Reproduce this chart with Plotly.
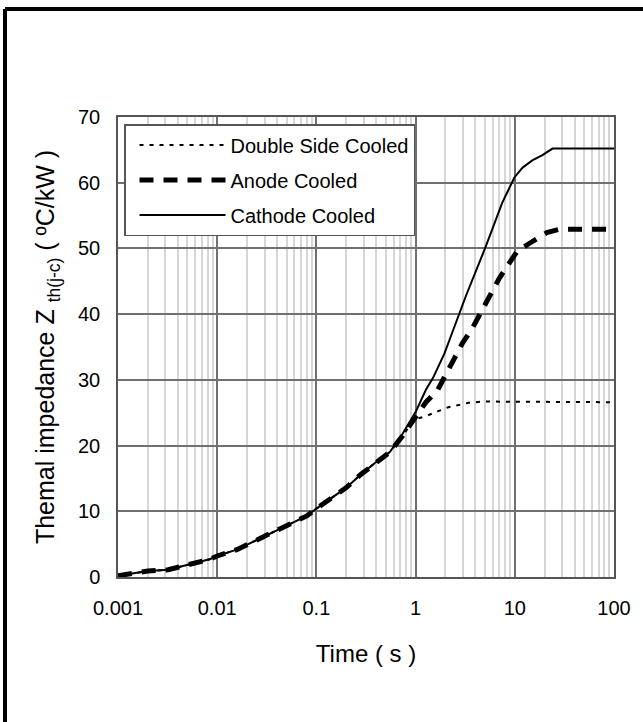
import plotly.graph_objects as go

# ---- data ----
t_common = [0.001, 0.0015, 0.002, 0.0032, 0.005, 0.0084, 0.01, 0.016, 0.031, 0.05, 0.08, 0.1,
            0.2, 0.28, 0.4, 0.55, 0.74, 0.97]
z_common = [0.2, 0.6, 0.9, 1.1, 1.8, 2.7, 3.2, 4.2, 6.3, 7.8, 9.3, 10.4,
            13.6, 15.6, 17.5, 19.0, 21.5, 24.0]

t_double = t_common + [1.23, 2.1, 3.4, 4.7, 100]
z_double = z_common + [24.4, 25.8, 26.5, 26.7, 26.6]

t_anode = t_common + [1.27, 1.66, 2.0, 2.45, 2.97, 3.75, 4.55, 5.5, 7.0, 9.1, 10.6, 14.5, 21, 28, 100]
z_anode = z_common[:-1] + [24.1] + [26.6, 28.4, 30.7, 33.0, 35.6, 37.9, 40.2, 42.7, 45.5, 48.1,
                                    49.6, 50.9, 52.4, 52.9, 52.9]

t_cathode = t_common[:-2] + [0.74, 1.0, 1.27, 1.5, 1.95, 2.2, 2.76, 3.22, 5.1, 7.5, 9.9, 12, 15, 19, 24, 100]
z_cathode = z_common[:-2] + [21.8, 25.1, 28.5, 30.3, 34.0, 36.1, 40.2, 42.8, 50.3, 57.0, 60.8,
                             62.3, 63.4, 64.2, 65.2, 65.2]

series_names = ["Double Side Cooled", "Anode Cooled", "Cathode Cooled"]
x_tickvals = [0.001, 0.01, 0.1, 1, 10, 100]
x_ticktext = ["0.001", "0.01", "0.1", "1", "10", "100"]
y_tickvals = [0, 10, 20, 30, 40, 50, 60, 70]

FONT = "Liberation Sans, Arial, sans-serif"

fig = go.Figure()
fig.add_trace(go.Scatter(x=t_double, y=z_double, mode="lines", name=series_names[0],
                         legendgroup="a",
                         line=dict(color="black", width=2, dash="4px,6px")))
fig.add_trace(go.Scatter(x=t_anode, y=z_anode, mode="lines", name=series_names[1],
                         legendgroup="b",
                         line=dict(color="black", width=5, dash="14px,10px")))
fig.add_trace(go.Scatter(x=t_cathode, y=z_cathode, mode="lines", name=series_names[2],
                         legendgroup="c",
                         line=dict(color="black", width=2)))

L, R, T, B = 118, 29, 117, 145
W, H = 643, 722
pw, ph = W - L - R, H - T - B

def px2paper_x(px):
    return (px - L) / pw

def px2paper_y(py):
    return (H - B - py) / ph

fig.update_layout(
    width=W, height=H,
    margin=dict(l=L, r=R, t=T, b=B, autoexpand=False),
    paper_bgcolor="white", plot_bgcolor="white",
    font=dict(family=FONT, size=20, color="black"),
    showlegend=True,
    legend=dict(x=px2paper_x(124), y=px2paper_y(124), xanchor="left", yanchor="top",
                bgcolor="white", bordercolor="#555555", borderwidth=1.5,
                font=dict(size=20), itemwidth=86, indentation=9, tracegroupgap=6,
                traceorder="grouped"),
    shapes=[
        dict(type="line", xref="paper", yref="paper",
             x0=px2paper_x(5), x1=px2paper_x(700), y0=px2paper_y(9), y1=px2paper_y(9),
             line=dict(color="black", width=4)),
        dict(type="line", xref="paper", yref="paper",
             x0=px2paper_x(5), x1=px2paper_x(5), y0=px2paper_y(9), y1=px2paper_y(800),
             line=dict(color="black", width=4)),
    ],
)

fig.update_xaxes(type="log", range=[-3, 2], tickvals=x_tickvals, ticktext=x_ticktext,
                 showgrid=True, gridcolor="#707070", gridwidth=1.5,
                 minor=dict(dtick="D1", showgrid=True, gridcolor="#d6d6d6", gridwidth=1.5),
                 showline=True, linecolor="#555555", linewidth=1.5, mirror=True,
                 ticks="", ticklabelstandoff=12, tickfont=dict(size=20),
                 title=dict(text="Time ( s )", font=dict(size=24), standoff=27),
                 zeroline=False)
fig.update_yaxes(range=[0, 70], tickvals=y_tickvals,
                 showgrid=True, gridcolor="#707070", gridwidth=1.5,
                 showline=True, linecolor="#555555", linewidth=1.5, mirror=True,
                 ticks="", ticklabelstandoff=12, tickfont=dict(size=20),
                 title=dict(text="Themal impedance Z <sub>th(j-c)</sub> ( ºC/kW )",
                            font=dict(size=25), standoff=16),
                 zeroline=False)

fig.write_html("out.html", config={"displayModeBar": False},
               post_script="document.body.style.margin='0';document.body.style.overflow='hidden';")
